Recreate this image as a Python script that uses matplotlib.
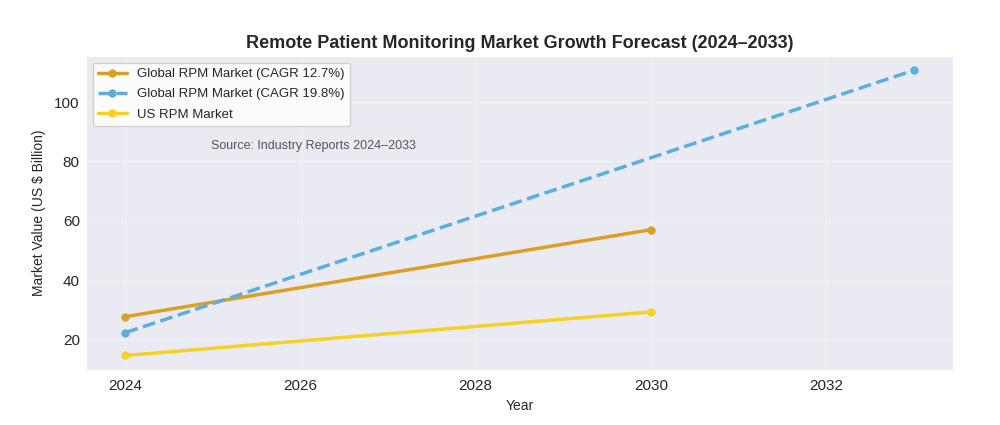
import matplotlib.pyplot as plt
import seaborn as sns

sns.set_style('darkgrid')
plt.rcParams['font.family'] = ['Liberation Sans', 'DejaVu Sans']

years_global = [2024, 2030]
global_127 = [27.7, 57.0]
years_fast = [2024, 2033]
global_198 = [22.3, 110.7]
years_us = [2024, 2030]
us_rpm = [14.6, 29.3]

fig, ax = plt.subplots(figsize=(10, 4.25), dpi=100)

ax.plot(years_global, global_127, color='#DBA022', lw=2.5, marker='o', ms=5,
        label='Global RPM Market (CAGR 12.7%)')
ax.plot(years_fast, global_198, color='#5AAFDC', lw=2.5, ls='--', marker='o', ms=5,
        label='Global RPM Market (CAGR 19.8%)')
ax.plot(years_us, us_rpm, color='#F4D225', lw=2.5, marker='o', ms=5,
        label='US RPM Market')

ax.set_xticks([2024, 2026, 2028, 2030, 2032])
ax.tick_params(axis='both', labelsize=11)
ax.tick_params(axis='y', pad=1)
ax.set_xlabel('Year', fontsize=10)
ax.set_ylabel('Market Value (US $ Billion)', fontsize=10, labelpad=6)
ax.set_title('Remote Patient Monitoring Market Growth Forecast (2024\u20132033)',
             fontsize=13, fontweight='bold')
ax.grid(True, color='white', lw=0.8, alpha=0.35)

ax.text(0.144, 0.705, 'Source: Industry Reports 2024\u20132033', transform=ax.transAxes,
        fontsize=9, color='#555555')
ax.legend(loc='upper left', fontsize=9.5, frameon=True, facecolor='white',
          framealpha=0.9, borderaxespad=0.5, labelspacing=0.6, handlelength=2.2)

fig.subplots_adjust(left=0.086, right=0.953, top=0.868, bottom=0.13)
fig.savefig('out.png')
